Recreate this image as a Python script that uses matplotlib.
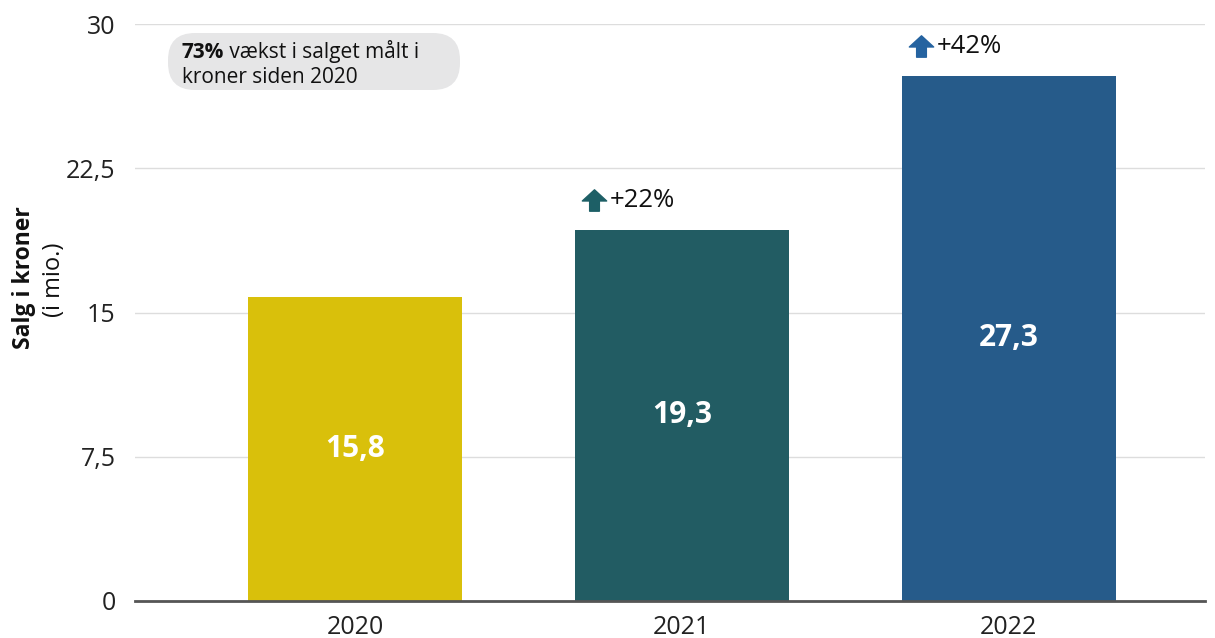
import matplotlib
matplotlib.use("Agg")
import matplotlib.pyplot as plt
from matplotlib.patches import FancyBboxPatch
from matplotlib.path import Path
from matplotlib.transforms import offset_copy, IdentityTransform

years = ["2020", "2021", "2022"]
sales = [15.8, 19.3, 27.3]
growth = [None, "+22%", "+42%"]
bar_colors = ["#D9C00B", "#225C63", "#265B8A"]
arrow_colors = [None, "#1D5F66", "#2563A0"]
y_ticks = [0, 7.5, 15, 22.5, 30]
y_tick_labels = ["0", "7,5", "15", "22,5", "30"]

plt.rcParams["font.family"] = ["Open Sans", "DejaVu Sans"]

W, H = 1215, 638
fig = plt.figure(figsize=(W / 100, H / 100), dpi=100)
ax = fig.add_axes([135 / W, (H - 601) / H, 1070 / W, 577 / H])

x = range(len(years))
bar_w = 0.655
bars = ax.bar(x, sales, width=bar_w, color=bar_colors, zorder=2)

ax.set_ylim(0, 30)
ax.set_xlim(-0.673, 2.6)
ax.set_yticks(y_ticks)
ax.set_yticklabels(y_tick_labels)
ax.set_xticks(list(x))
ax.set_xticklabels(years)
ax.tick_params(axis="both", length=0, labelsize=18, colors="#222222")
ax.tick_params(axis="y", pad=14)
ax.tick_params(axis="x", pad=10)
ax.grid(axis="y", color="#DDDDDD", linewidth=1, zorder=0)
for s in ["top", "right", "left"]:
    ax.spines[s].set_visible(False)
ax.spines["bottom"].set_color("#555555")
ax.spines["bottom"].set_linewidth(2)
ax.spines["bottom"].set_zorder(3)

# value labels inside the bars
for i, v in enumerate(sales):
    ax.text(i, v / 2, f"{v:.1f}".replace(".", ","), ha="center", va="center",
            color="white", fontsize=21.5, fontweight="bold", zorder=4)

# up-arrow glyph for growth markers
arrow_path = Path(
    [(-0.5, -0.02), (0.0, 0.44), (0.5, -0.02), (0.2, -0.02), (0.2, -0.44),
     (-0.2, -0.44), (-0.2, -0.02), (-0.5, -0.02)],
    [Path.MOVETO] + [Path.LINETO] * 6 + [Path.CLOSEPOLY],
)

for i, (v, g) in enumerate(zip(sales, growth)):
    if g is None:
        continue
    left = i - bar_w / 2
    mt = offset_copy(ax.transData, fig=fig, x=13.5, y=21.5, units="points")
    ax.plot([left], [v], marker=arrow_path, markersize=17.5,
            color=arrow_colors[i], transform=mt, clip_on=False)
    tt = offset_copy(ax.transData, fig=fig, x=25, y=21, units="points")
    ax.text(left, v, g, transform=tt, ha="left", va="center", fontsize=18.5,
            color="#111111")

# summary pill
pill = FancyBboxPatch((168, H - 90), 292, 57,
                      boxstyle="round,pad=0,rounding_size=27",
                      transform=IdentityTransform(), facecolor="#E6E6E7",
                      edgecolor="none", zorder=5, clip_on=False)
ax.add_patch(pill)
t1 = ax.text(182 / W, (H - 58) / H, "73%", fontsize=15, fontweight="bold",
             va="baseline", ha="left", color="#111111", zorder=6,
             transform=fig.transFigure)
ax.text(182 / W, (H - 83) / H, "kroner siden 2020", fontsize=15,
        va="baseline", ha="left", color="#111111", zorder=6,
        transform=fig.transFigure)
ax.annotate(" vækst i salget målt i", xy=(1, 0), xycoords=t1, va="bottom",
            ha="left", fontsize=15, color="#111111", zorder=6,
            annotation_clip=False)

# y-axis title
fig.text(24 / W, (H - 278) / H, "Salg i kroner", rotation=90, fontsize=16.5,
         fontweight="bold", ha="center", va="center", color="#111111")
fig.text(54 / W, (H - 280) / H, "(i mio.)", rotation=90, fontsize=17,
         ha="center", va="center", color="#111111")

fig.savefig("out.png", dpi=100)
